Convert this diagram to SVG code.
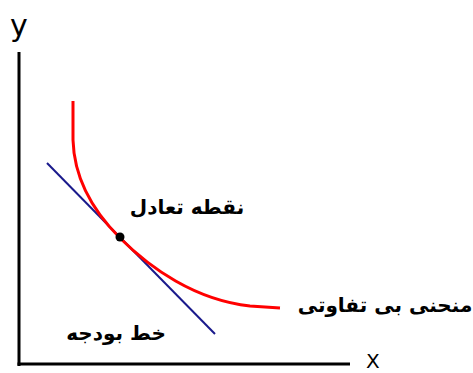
<svg xmlns="http://www.w3.org/2000/svg" width="473" height="373" viewBox="0 0 473 373">
<style>
.axis{stroke:#000;stroke-width:3;fill:none}
.lbl{font-family:"DejaVu Sans","Liberation Sans",sans-serif;font-weight:bold;font-size:20px;fill:#000;text-anchor:middle}
.ax{font-family:"DejaVu Sans","Liberation Sans",sans-serif;fill:#000}
</style>
<rect width="473" height="373" fill="#fff"/>
<g id="axes">
<line class="axis" x1="19" y1="52" x2="19" y2="366"/>
<line class="axis" x1="17.5" y1="364" x2="350" y2="364"/>
<text class="ax" x="10" y="36" font-size="30">y</text>
<text class="ax" x="366" y="368" font-size="20">X</text>
</g>
<g id="connectors">
<line id="budget" x1="47" y1="163" x2="215" y2="334" stroke="#1a1a8c" stroke-width="2"/>
<path id="indiff" d="M73,101 L73,140 C74,175 90,208 120,238 C150,268 195,300 250,306 L280,308" stroke="#ff0000" stroke-width="3" fill="none"/>
</g>
<g id="equilibrium">
<circle cx="120" cy="237" r="4.5" fill="#000"/>
<text class="lbl" x="187" y="214" direction="rtl">نقطه تعادل</text>
</g>
<g id="indiff-label">
<text class="lbl" x="385" y="312" direction="rtl">منحنی بی تفاوتی</text>
</g>
<g id="budget-label">
<text class="lbl" x="116" y="340" direction="rtl">خط بودجه</text>
</g>
</svg>
